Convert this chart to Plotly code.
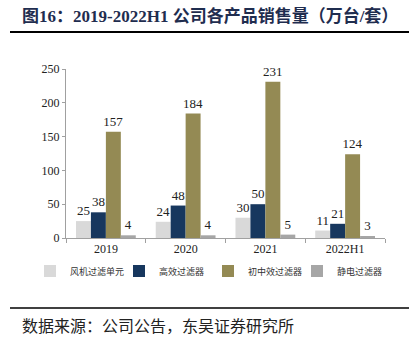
import plotly.graph_objects as go

categories = ["2019", "2020", "2021", "2022H1"]
series_names = ["风机过滤单元", "高效过滤器", "初中效过滤器", "静电过滤器"]
fan_filter = [25, 24, 30, 11]
hepa = [38, 48, 50, 21]
mid_eff = [157, 184, 231, 124]
electro = [4, 4, 5, 3]
colors = ["#D9D9D9", "#17375E", "#948A54", "#A6A6A6"]

W, H = 409, 343
L, R, T, B = 66, 24, 69, 105
pw, ph = W - L - R, H - T - B

def px(x):
    return (x - L) / pw

def py(y):
    return (H - B - y) / ph

serif = "Liberation Serif, Times New Roman, Noto Sans CJK SC"
fig = go.Figure()
for name, vals, c in zip(series_names, [fan_filter, hepa, mid_eff, electro], colors):
    fig.add_trace(go.Bar(
        x=categories, y=vals, name=name, marker=dict(color=c, line=dict(width=0)),
        text=[str(v) for v in vals], textposition="outside", cliponaxis=False,
        constraintext="none", textangle=0,
        textfont=dict(family=serif, size=13, color="#222"),
    ))

fig.update_layout(
    width=W, height=H, margin=dict(l=L, r=R, t=T, b=B),
    paper_bgcolor="white", plot_bgcolor="white",
    barmode="group", bargap=0.25, bargroupgap=0,
    font=dict(family=serif, size=11, color="#222"),
    showlegend=True,
    legend=dict(orientation="h", x=px(30), xanchor="left", y=py(271), yanchor="middle",
                font=dict(family="Noto Sans CJK SC", size=9, color="#333"),
                itemwidth=30, entrywidth=44, entrywidthmode="pixels", traceorder="normal"),
    xaxis=dict(showline=True, linecolor="#A0A0A0", ticks="outside", tickson="boundaries",
               tickcolor="#A0A0A0", ticklen=4, tickfont=dict(family=serif, size=12, color="#222")),
    yaxis=dict(range=[0, 250], dtick=50, showgrid=False, showline=True, linecolor="#A0A0A0",
               ticks="outside", tickcolor="#A0A0A0", ticklen=3, zeroline=False,
               tickfont=dict(family=serif, size=12, color="#222")),
    shapes=[
        dict(type="line", xref="paper", yref="paper", x0=px(10), x1=px(409), y0=py(32), y1=py(32),
             line=dict(color="#000", width=2)),
        dict(type="line", xref="paper", yref="paper", x0=px(10), x1=px(409), y0=py(308), y1=py(308),
             line=dict(color="#000", width=1.5)),
    ],
    annotations=[
        dict(text="<b>图16：2019-2022H1 公司各产品销售量（万台/套）</b>", xref="paper", yref="paper",
             x=px(20), y=py(16), xanchor="left", yanchor="middle", showarrow=False,
             font=dict(family="Liberation Serif, Noto Sans CJK SC", size=17, color="#1F2D4F")),
        dict(text="数据来源：公司公告，东吴证券研究所", xref="paper", yref="paper",
             x=px(20), y=py(325), xanchor="left", yanchor="middle", showarrow=False,
             font=dict(family="Noto Sans CJK SC", size=16, color="#222")),
    ],
)
fig.write_html("out.html")
